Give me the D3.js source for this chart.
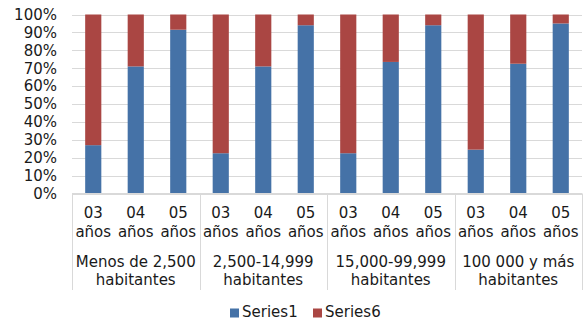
<!DOCTYPE html>
<html>
<head>
<meta charset="utf-8">
<script src="https://cdn.jsdelivr.net/npm/d3@7"></script>
<style>
  html, body { margin: 0; padding: 0; background: #fff; }
  svg { display: block; font-family: "DejaVu Sans", Verdana, sans-serif; }
</style>
</head>
<body>
<svg id="chart" width="588" height="321"></svg>
<script>
const groups = ["Menos de 2,500|habitantes", "2,500-14,999|habitantes", "15,000-99,999|habitantes", "100 000 y más|habitantes"];
const ages = ["03|años", "04|años", "05|años"];
const series1 = [27, 71, 91.5, 22.5, 71, 94, 22.5, 73.5, 94, 24.5, 72.5, 95];
const series6 = [73, 29, 8.5, 77.5, 29, 6, 77.5, 26.5, 6, 75.5, 27.5, 5];
const yTicks = [0, 10, 20, 30, 40, 50, 60, 70, 80, 90, 100];
const seriesNames = ["Series1", "Series6"];
const colors = ["#4572A7", "#AA4643"];

const svg = d3.select("#chart");
const pLeft = 72, pRight = 582, pTop = 14.5, pBottom = 193.5;

const cats = [];
groups.forEach((g, gi) => ages.forEach((a, ai) => cats.push({ key: gi + "-" + ai, g: gi, a: a })));

const x = d3.scaleBand().domain(cats.map(c => c.key)).range([pLeft, pRight]).paddingInner(0.62).paddingOuter(0.31);
const xg = d3.scaleBand().domain(groups).range([pLeft, pRight]);
const y = d3.scaleLinear().domain([0, 100]).range([pBottom, pTop]);

// gridlines
svg.append("g").selectAll("line").data(yTicks).join("line")
  .attr("x1", pLeft).attr("x2", pRight)
  .attr("y1", d => Math.round(y(d)) + 0.5).attr("y2", d => Math.round(y(d)) + 0.5)
  .attr("stroke", "#d9d9d9").attr("stroke-width", 1);

// y axis labels
const ya = svg.append("g").attr("transform", `translate(${pLeft},0)`)
  .call(d3.axisLeft(y).tickValues(yTicks).tickSize(0).tickPadding(15).tickFormat(d => d + "%"));
ya.select(".domain").remove();
ya.selectAll("text").attr("font-size", 15).attr("fill", "#1a1a1a").attr("font-family", "DejaVu Sans, Verdana, sans-serif");

// stacked bars
const stackData = cats.map((c, i) => ({ key: c.key, s0: series1[i], s1: series6[i] }));
const stack = d3.stack().keys(["s0", "s1"])(stackData);
svg.append("g").selectAll("g").data(stack).join("g")
  .attr("fill", (d, i) => colors[i])
  .selectAll("rect").data(d => d).join("rect")
  .attr("x", d => x(d.data.key))
  .attr("width", x.bandwidth())
  .attr("y", d => y(d[1]))
  .attr("height", d => y(d[0]) - y(d[1]));

// x axis line and separators
svg.append("line").attr("x1", pLeft).attr("x2", pRight).attr("y1", pBottom).attr("y2", pBottom)
  .attr("stroke", "#d9d9d9").attr("stroke-width", 1);
const seps = groups.map(g => xg(g)).concat([pRight]);
svg.append("g").selectAll("line").data(seps).join("line")
  .attr("x1", d => Math.round(d) + 0.5).attr("x2", d => Math.round(d) + 0.5)
  .attr("y1", pBottom).attr("y2", 290)
  .attr("stroke", "#d9d9d9").attr("stroke-width", 1);

// category labels
const lab = svg.append("g").attr("font-size", 15).attr("fill", "#1a1a1a").attr("text-anchor", "middle");
cats.forEach(c => {
  const cx = x(c.key) + x.bandwidth() / 2;
  const parts = c.a.split("|");
  lab.append("text").attr("x", cx).attr("y", 213).attr("dy", "0.35em").text(parts[0]);
  lab.append("text").attr("x", cx).attr("y", 231.5).attr("dy", "0.35em").text(parts[1]);
});
groups.forEach(g => {
  const cx = xg(g) + xg.bandwidth() / 2;
  const parts = g.split("|");
  lab.append("text").attr("x", cx).attr("y", 262).attr("dy", "0.35em").text(parts[0]);
  lab.append("text").attr("x", cx).attr("y", 280).attr("dy", "0.35em").text(parts[1]);
});

// legend
const legX = [230, 313];
const leg = svg.append("g");
seriesNames.forEach((n, i) => {
  leg.append("rect").attr("x", legX[i]).attr("y", 308.5).attr("width", 9).attr("height", 9).attr("fill", colors[i]);
  leg.append("text").attr("x", legX[i] + 12).attr("y", 312).attr("dy", "0.35em")
    .attr("font-size", 15).attr("fill", "#1a1a1a").text(n);
});
</script>
</body>
</html>
